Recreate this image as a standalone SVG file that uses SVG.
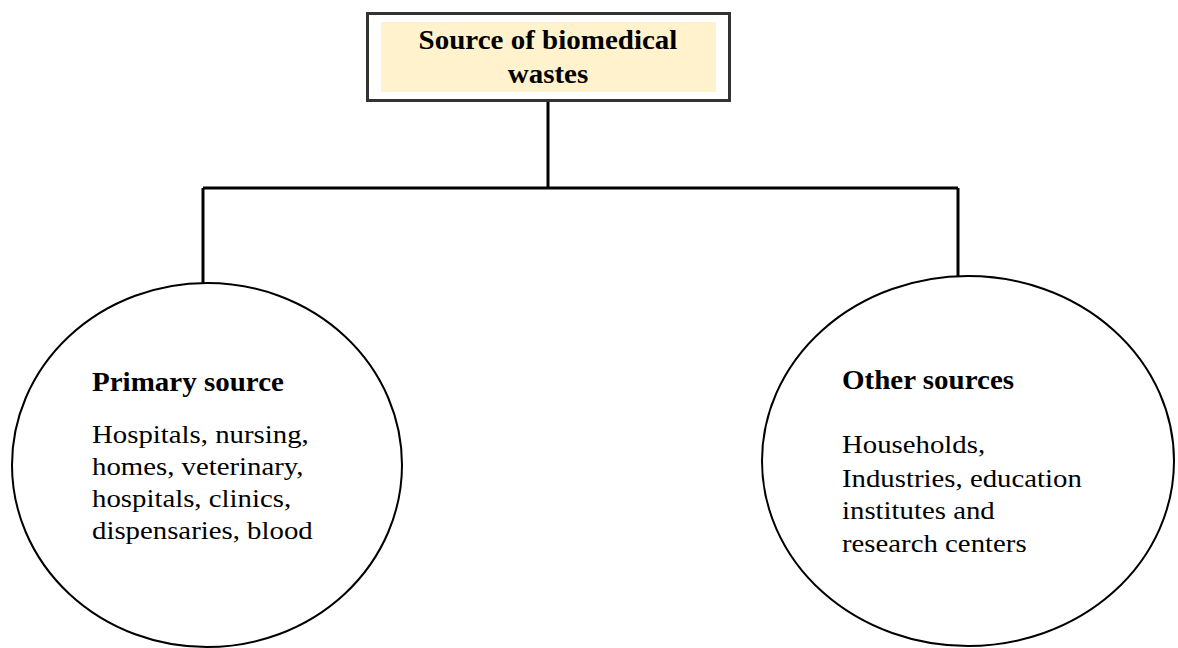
<svg xmlns="http://www.w3.org/2000/svg" width="1178" height="648" viewBox="0 0 1178 648">
<style>
.t{font-family:"Liberation Serif","Times New Roman",serif;fill:#000}
.b{font-weight:bold;font-size:28px}
.r{font-size:26px}
.conn{stroke:#000;stroke-width:3;fill:none}
.ell{fill:#fff;stroke:#000;stroke-width:2}
</style>
<rect width="1178" height="648" fill="#fff"/>
<g id="connectors">
<path class="conn" d="M548 102V188M203 188H958M203 188V283M958 188V276"/>
</g>
<g id="root">
<rect x="367.5" y="13.5" width="362" height="87" fill="#fff" stroke="#333" stroke-width="3"/>
<rect x="381" y="22" width="335" height="70" fill="#FFF2CC"/>
<g transform="translate(548 0) scale(1.036 1) translate(-548 0)">
<text class="t b" x="548" y="49" text-anchor="middle">Source of biomedical</text>
<text class="t b" x="548" y="83" text-anchor="middle">wastes</text>
</g>
</g>
<g id="primary">
<ellipse class="ell" cx="207" cy="465" rx="195" ry="182"/>
<g transform="translate(92 0) scale(1.036 1) translate(-92 0)">
<text class="t b" x="92" y="391">Primary source</text>
</g>
<g transform="translate(92 0) scale(1.108 1) translate(-92 0)">
<text class="t r"><tspan x="92" y="443">Hospitals, nursing,</tspan><tspan x="92" y="475">homes, veterinary,</tspan><tspan x="92" y="507">hospitals, clinics,</tspan><tspan x="92" y="539">dispensaries, blood</tspan></text>
</g>
</g>
<g id="other">
<ellipse class="ell" cx="968" cy="461" rx="206" ry="185"/>
<g transform="translate(842 0) scale(1.036 1) translate(-842 0)">
<text class="t b" x="842" y="389">Other sources</text>
</g>
<g transform="translate(842 0) scale(1.108 1) translate(-842 0)">
<text class="t r"><tspan x="842" y="453">Households,</tspan><tspan x="842" y="487">Industries, education</tspan><tspan x="842" y="519">institutes and</tspan><tspan x="842" y="552">research centers</tspan></text>
</g>
</g>
</svg>
